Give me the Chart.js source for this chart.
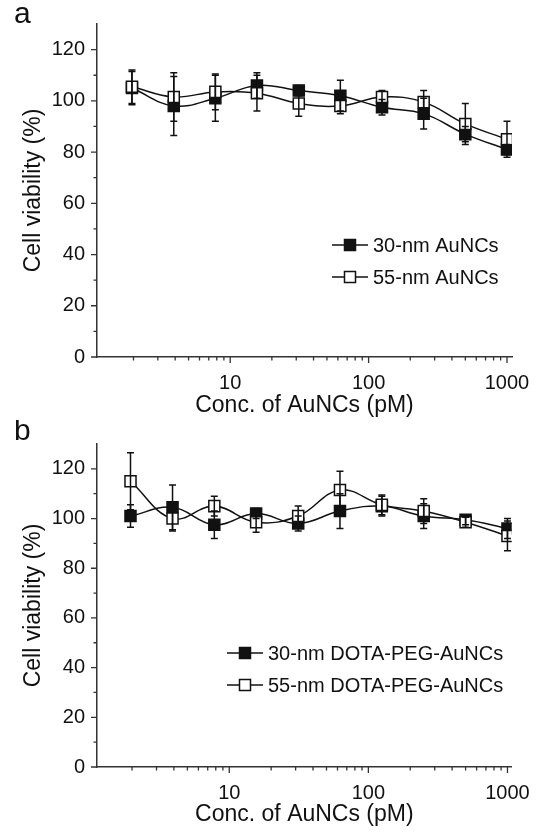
<!DOCTYPE html>
<html>
<head>
<meta charset="utf-8">
<script src="https://cdn.jsdelivr.net/npm/chart.js@4.4.0/dist/chart.umd.min.js"></script>
<style>
  html, body { margin: 0; padding: 0; background: #fff; }
  canvas { position: absolute; left: 0; }
  #chartA { top: 0; }
  #chartB { top: 420px; }
</style>
</head>
<body>
<canvas id="chartA" width="544" height="420"></canvas>
<canvas id="chartB" width="544" height="412"></canvas>
<script>
// Concentrations (pM), twofold dilution series
const concentrations = [1.95, 3.91, 7.81, 15.6, 31.3, 62.5, 125, 250, 500, 1000];

// Panel a: bare AuNCs
const viabilityA30 = [105, 98, 101, 106, 104, 102, 97.5, 95, 87, 81];
const errorA30     = [6.5, 11.5, 9, 5, 2, 6, 3, 6, 3, 2];
const viabilityA55 = [105.5, 101.5, 103.5, 103, 99, 98, 101.5, 99.5, 91, 85];
const errorA55     = [6.5, 9.5, 7, 7, 5, 3, 2.5, 4.5, 8, 7];

// Panel b: DOTA-PEG-AuNCs
const viabilityB30 = [101, 104.5, 97.5, 102, 98, 103, 105, 101, 99.5, 96];
const errorB30     = [4.5, 9, 5.5, 2, 3, 7, 4, 5, 2, 4];
const viabilityB55 = [115, 100, 105, 98.5, 101, 111.5, 105.5, 103, 98.5, 93];
const errorB55     = [11.5, 5, 4, 4, 4, 7.5, 4, 5, 2, 6];

// Tick labels
const xTickLabels = [10, 100, 1000];
const yTickLabels = [0, 20, 40, 60, 80, 100, 120];

const INK = '#111';
const AXIS = '#333';
const FONT = '"Liberation Sans", Arial, sans-serif';

Chart.defaults.font.family = FONT;
Chart.defaults.color = INK;

// Error bars, drawn over the markers like in the original
const errorBarsPlugin = {
    id: 'errorBars',
    afterDatasetsDraw(chart) {
        const ctx = chart.ctx;
        const yScale = chart.scales.y;
        ctx.save();
        ctx.strokeStyle = INK;
        ctx.lineWidth = 1.5;
        chart.data.datasets.forEach((ds, i) => {
            const meta = chart.getDatasetMeta(i);
            meta.data.forEach((pt, j) => {
                const v = ds.data[j].y;
                const e = ds.errors[j];
                const top = yScale.getPixelForValue(v + e);
                const bot = yScale.getPixelForValue(v - e);
                ctx.beginPath();
                ctx.moveTo(pt.x, top); ctx.lineTo(pt.x, bot);
                ctx.moveTo(pt.x - 3.5, top); ctx.lineTo(pt.x + 3.5, top);
                ctx.moveTo(pt.x - 3.5, bot); ctx.lineTo(pt.x + 3.5, bot);
                ctx.stroke();
            });
        });
        ctx.restore();
    }
};

// Tick marks, panel letter and the in-plot legend
const decorPlugin = {
    id: 'decor',
    afterDraw(chart, args, opts) {
        const ctx = chart.ctx;
        const xs = chart.scales.x;
        const ys = chart.scales.y;
        ctx.save();
        ctx.strokeStyle = AXIS;
        ctx.lineWidth = 1.3;
        ctx.beginPath();
        for (let d = 1; d <= 1000; d *= 10) {
            for (let m = 1; m <= 9; m++) {
                const v = m * d;
                if (v < xs.min || v > xs.max) continue;
                const len = m === 1 ? 6 : 3.5;
                const px = xs.getPixelForValue(v);
                ctx.moveTo(px, xs.top);
                ctx.lineTo(px, xs.top + len);
            }
        }
        for (let v = 0; v <= 120; v += 10) {
            const len = v % 20 === 0 ? 6 : 3.5;
            const py = ys.getPixelForValue(v);
            ctx.moveTo(ys.right - len, py);
            ctx.lineTo(ys.right, py);
        }
        ctx.stroke();

        // panel letter
        ctx.fillStyle = INK;
        ctx.font = '30px ' + FONT;
        ctx.textBaseline = 'alphabetic';
        ctx.fillText(opts.letter, 14, opts.letterY);

        // legend
        const lg = opts.legend;
        ctx.font = '20px ' + FONT;
        ctx.textBaseline = 'middle';
        chart.data.datasets.forEach((ds, i) => {
            const y = lg.y + i * lg.gap;
            ctx.strokeStyle = INK;
            ctx.lineWidth = 1.5;
            ctx.beginPath();
            ctx.moveTo(lg.x, y);
            ctx.lineTo(lg.x + 36, y);
            ctx.stroke();
            ctx.fillStyle = ds.pointBackgroundColor;
            ctx.fillRect(lg.x + 12.5, y - 5.5, 11, 11);
            ctx.strokeRect(lg.x + 12.5, y - 5.5, 11, 11);
            ctx.fillStyle = INK;
            ctx.fillText(ds.label, lg.x + 41, y + 1);
        });
        ctx.restore();
    }
};

function buildChart(canvasId, p) {
    const datasets = p.series.map(s => ({
        label: s.label,
        data: concentrations.map((c, i) => ({ x: c, y: s.values[i] })),
        errors: s.errors,
        order: s.filled ? 1 : 0,
        borderColor: INK,
        borderWidth: 1.5,
        tension: 0.4,
        fill: false,
        pointStyle: 'rect',
        pointRadius: 7.8,
        pointHoverRadius: 7.8,
        pointBackgroundColor: s.filled ? INK : '#fff',
        pointBorderColor: INK,
        pointBorderWidth: 1.5
    }));

    return new Chart(document.getElementById(canvasId), {
        type: 'line',
        data: { datasets },
        plugins: [errorBarsPlugin, decorPlugin],
        options: {
            responsive: false,
            animation: false,
            layout: { padding: { top: p.padTop, right: p.padRight, left: 0, bottom: 0 } },
            plugins: {
                legend: { display: false },
                tooltip: { enabled: false },
                decor: { letter: p.letter, letterY: p.letterY, legend: p.legend }
            },
            scales: {
                x: {
                    type: 'logarithmic',
                    min: p.xMin,
                    max: p.xMax,
                    afterBuildTicks: scale => { scale.ticks = xTickLabels.map(v => ({ value: v })); },
                    afterFit: scale => { scale.height = p.xHeight; },
                    grid: { display: false, drawTicks: false },
                    border: { display: true, color: AXIS, width: 1.5 },
                    ticks: {
                        autoSkip: false,
                        maxRotation: 0,
                        padding: 14,
                        color: INK,
                        font: { size: 20 },
                        callback: v => String(v)
                    },
                    title: {
                        display: true,
                        text: 'Conc. of AuNCs (pM)',
                        color: INK,
                        font: { size: 23, lineHeight: 1 },
                        padding: { top: 0, bottom: p.xTitlePad }
                    }
                },
                y: {
                    min: 0,
                    max: 130,
                    afterBuildTicks: scale => { scale.ticks = yTickLabels.map(v => ({ value: v })); },
                    afterFit: scale => { scale.width = 97; },
                    grid: { display: false, drawTicks: false },
                    border: { display: true, color: AXIS, width: 1.5 },
                    ticks: {
                        padding: 12,
                        color: INK,
                        font: { size: 20 }
                    },
                    title: {
                        display: true,
                        text: 'Cell viability (%)',
                        color: INK,
                        font: { size: 23, lineHeight: 1 },
                        padding: { top: 22, bottom: 0 }
                    }
                }
            }
        }
    });
}

buildChart('chartA', {
    letter: 'a',
    letterY: 23,
    padTop: 24,
    padRight: 32,
    xMin: 1.09,
    xMax: 1087,
    xHeight: 63,
    xTitlePad: 3,
    legend: { x: 332, y: 245, gap: 32 },
    series: [
        { label: '30-nm AuNCs', values: viabilityA30, errors: errorA30, filled: true },
        { label: '55-nm AuNCs', values: viabilityA55, errors: errorA55, filled: false }
    ]
});

buildChart('chartB', {
    letter: 'b',
    letterY: 20,
    padTop: 18,
    padRight: 28,
    xMin: 1.12,
    xMax: 1073,
    xHeight: 65,
    xTitlePad: 6,
    legend: { x: 227, y: 233, gap: 32 },
    series: [
        { label: '30-nm DOTA-PEG-AuNCs', values: viabilityB30, errors: errorB30, filled: true },
        { label: '55-nm DOTA-PEG-AuNCs', values: viabilityB55, errors: errorB55, filled: false }
    ]
});
</script>
</body>
</html>
